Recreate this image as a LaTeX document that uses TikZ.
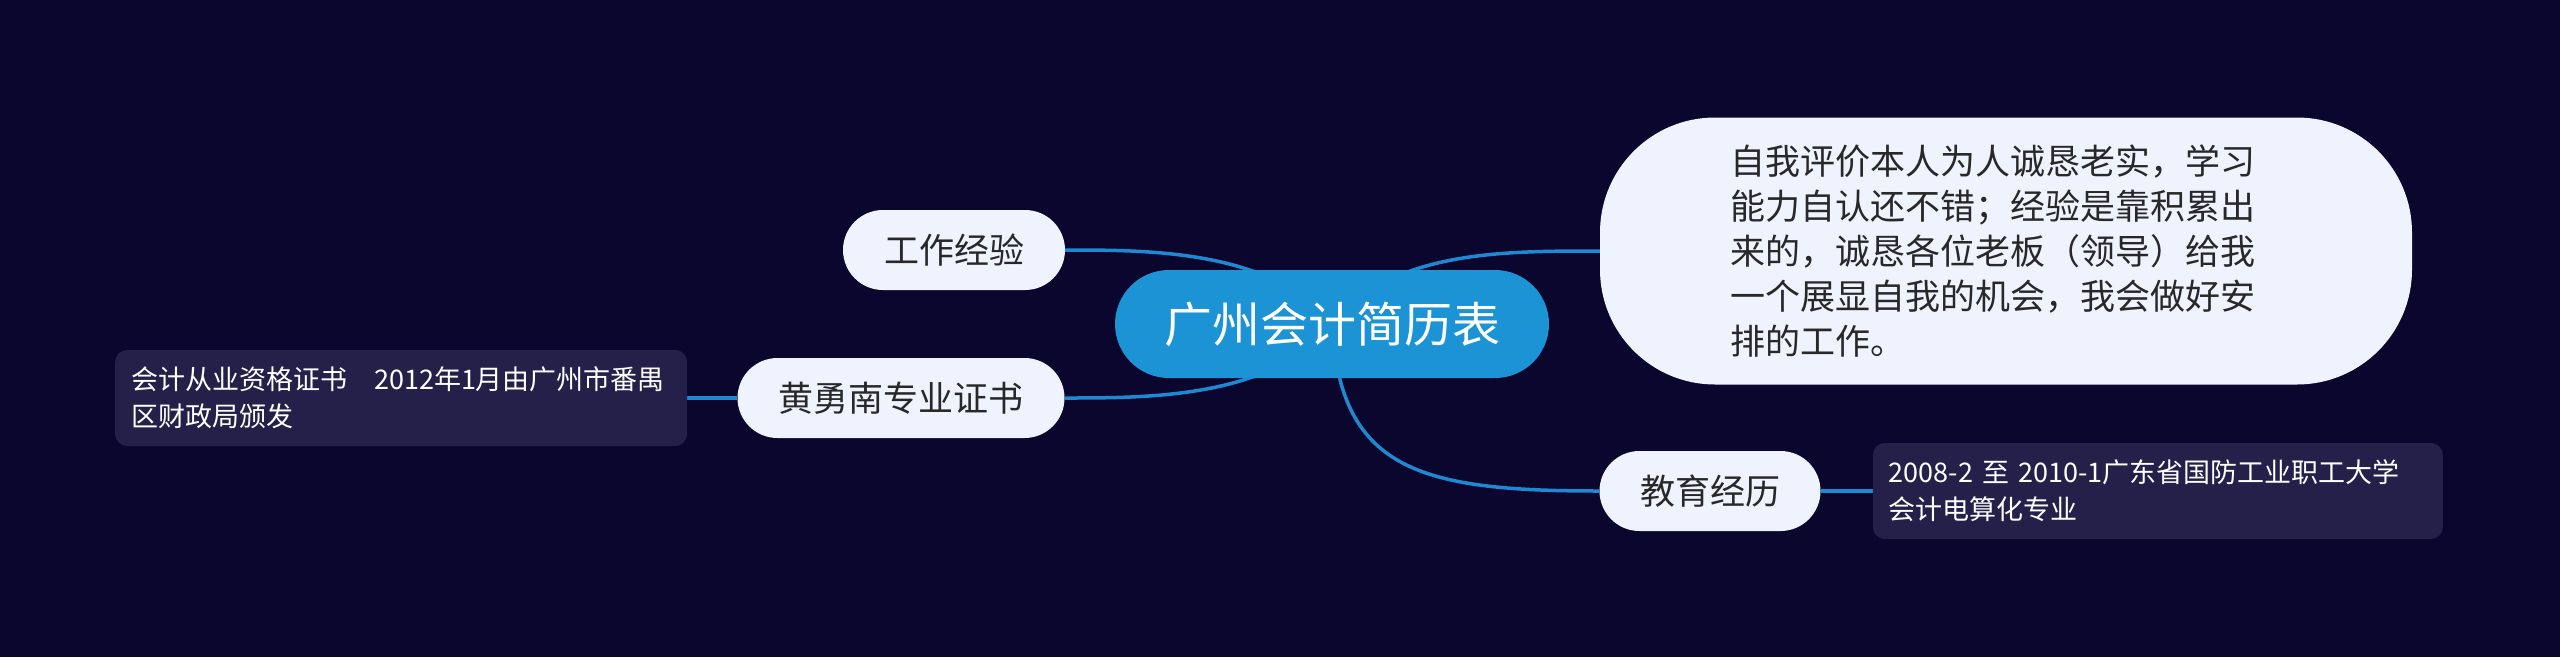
\documentclass[tikz,border=0pt]{standalone}
\usepackage{fontspec}
\setmainfont{Noto Sans CJK SC}
\usepackage{xcolor}
\usetikzlibrary{positioning}
\definecolor{nightbg}{RGB}{11,6,46}
\definecolor{rootblue}{RGB}{27,147,212}
\definecolor{linkblue}{RGB}{30,136,208}
\definecolor{leafwhite}{RGB}{238,243,254}
\definecolor{notepurple}{RGB}{37,32,74}
\definecolor{inkgray}{RGB}{40,40,40}
\pgfdeclarelayer{canvas}
\pgfdeclarelayer{links}
\pgfsetlayers{canvas,links,main}

\begin{document}
\begin{tikzpicture}[x=1pt, y=-1pt,
    root/.style={fill=rootblue, text=white, rounded corners=54pt, minimum width=434pt, minimum height=108pt, inner sep=0pt, font=\fontsize{48}{56}\selectfont},
    topic/.style={fill=leafwhite, text=inkgray, rounded corners=40pt, minimum height=80pt, inner sep=0pt, font=\fontsize{35}{45}\selectfont},
    note/.style={fill=notepurple, text=white, rounded corners=12pt, minimum height=96pt, inner xsep=16pt, align=left, font=\fontsize{27}{37}\selectfont},
    link/.style={linkblue, line width=3.5pt}]
  \begin{pgfonlayer}{canvas}
    \fill[nightbg] (0,0) rectangle (2560,657);
  \end{pgfonlayer}
  \useasboundingbox (0,0) rectangle (2560,657);

  \node[root] (resume) at (1332,324) {广州会计简历表};
  \node[topic, minimum width=222pt] (work) at (954,250) {工作经验};
  \node[topic, minimum width=327pt] (cert) at (901,398) {黄勇南专业证书};
  \node[topic, minimum width=221pt] (edu) at (1710,491) {教育经历};
  \node[topic, minimum width=812pt, minimum height=267pt, rounded corners=115pt, align=left] (self) at (2006,251)
    {自我评价本人为人诚恳老实，学习\hspace*{26pt}\\能力自认还不错；经验是靠积累出\\来的，诚恳各位老板（领导）给我\\一个展显自我的机会，我会做好安\\排的工作。};
  \node[note, text width=540pt, left=50pt of cert] (certnote)
    {会计从业资格证书\ \ \ 2012年1月由广州市番禺\\区财政局颁发};
  \node[note, text width=538pt, right=52pt of edu] (edunote)
    {2008-2 至 2010-1广东省国防工业职工大学\\会计电算化专业};

  \begin{pgfonlayer}{links}
    \draw[link] (resume.center) .. controls +(-60,-74) and +(85,0) .. (work.east);
    \draw[link] (resume.center) .. controls +(-60,74) and +(85,0) .. (cert.east);
    \draw[link] (resume.center) .. controls +(60,-73) and +(-100,0) .. (self.west);
    \draw[link] (resume.center) .. controls +(8,146) and +(-180,0) .. (edu.west);
    \draw[link] (cert.west) -- (certnote.east);
    \draw[link] (edu.east) -- (edunote.west);
  \end{pgfonlayer}
\end{tikzpicture}
\end{document}
